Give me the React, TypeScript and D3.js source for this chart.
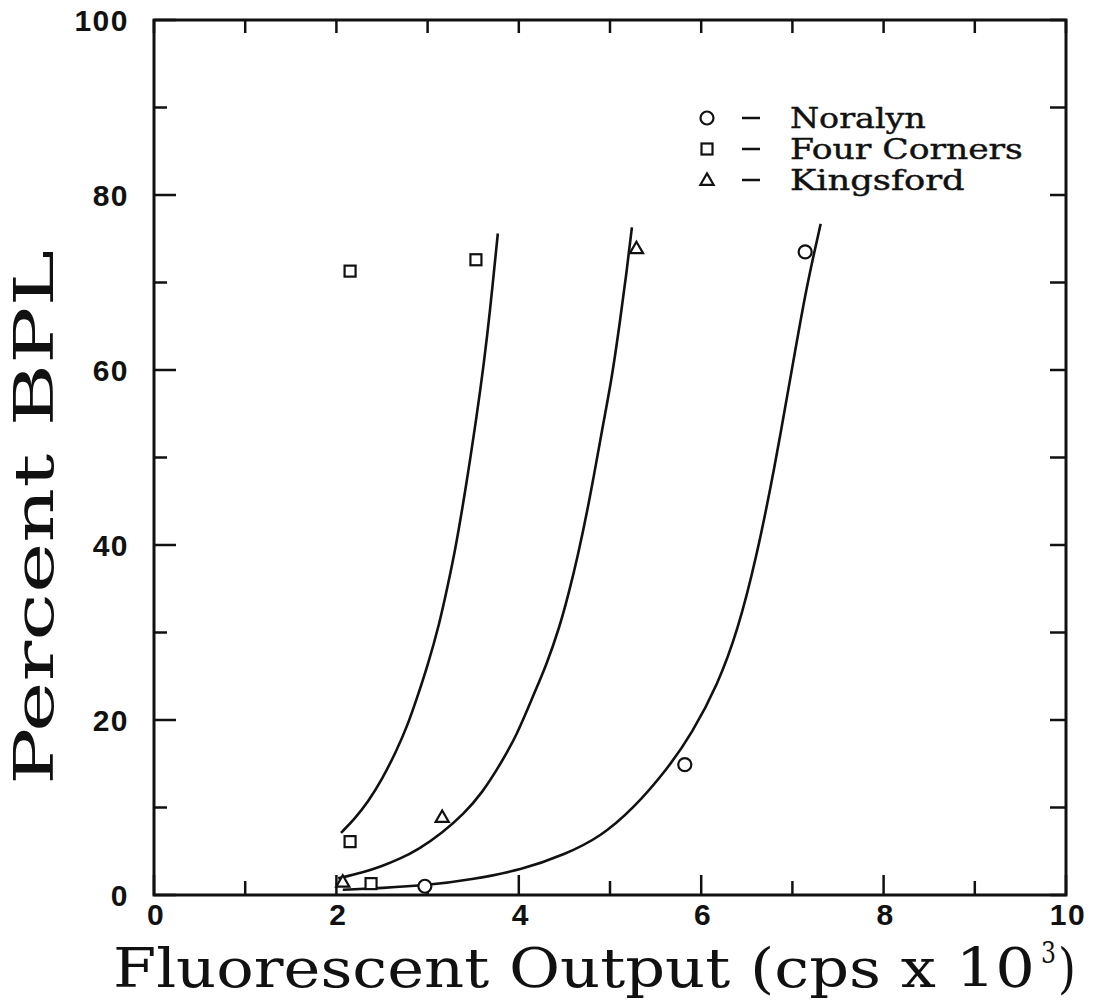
import React from 'react'
import * as d3 from 'd3'

// measured points, [cps x 10^3, % BPL]
const noralynPoints = [[2.97, 1.0], [5.82, 14.9], [7.14, 73.5]]
const fourCornersPoints = [[2.15, 71.3], [3.53, 72.6], [2.15, 6.1], [2.38, 1.3]]
const kingsfordPoints = [[2.07, 1.5], [3.16, 8.9], [5.29, 73.9]]

// fitted curves
const noralynCurve = [
  [2.07, 0.6], [2.5, 0.8], [2.99, 1.1], [3.5, 1.8], [4.04, 2.9], [4.5, 4.6], [4.89, 6.6], [5.25, 9.8],
  [5.63, 14.4], [5.9, 18.5], [6.18, 24.0], [6.4, 30.2], [6.6, 38.3], [6.8, 48.5], [7.01, 61.0], [7.15, 69.3], [7.31, 76.7],
]
const kingsfordCurve = [
  [2.02, 1.9], [2.3, 2.6], [2.5, 3.3], [2.69, 4.1], [2.9, 5.2], [3.16, 7.1], [3.4, 9.3], [3.6, 11.7], [3.79, 14.8],
  [3.98, 18.3], [4.15, 22.6], [4.3, 26.2], [4.45, 30.7], [4.55, 34.6], [4.64, 38.4], [4.78, 45.3], [4.92, 53.6],
  [5.02, 59.0], [5.11, 65.6], [5.18, 71.0], [5.24, 76.3],
]
const fourCornersCurve = [
  [2.05, 7.1], [2.2, 8.7], [2.35, 10.7], [2.5, 13.2], [2.66, 16.5], [2.78, 19.4], [2.88, 22.4], [3.0, 26.2],
  [3.13, 31.0], [3.22, 35.3], [3.31, 39.8], [3.42, 46.6], [3.54, 54.8], [3.62, 61.0], [3.68, 66.3], [3.77, 75.6],
]

const legendNames = ['Noralyn', 'Four Corners', 'Kingsford']
const legendShapes = ['circle', 'square', 'triangle']

const xMajor = [0, 2, 4, 6, 8, 10]
const yMajor = [0, 20, 40, 60, 80, 100]

const INK = '#111'
const SERIF = '"DejaVu Serif Condensed", "DejaVu Serif", serif'
const SANS = '"Liberation Sans", Arial, sans-serif'

function Marker({ shape, cx, cy }: { shape: string; cx: number; cy: number }) {
  if (shape === 'circle') {
    return <circle cx={cx} cy={cy} r={6.5} fill="white" stroke={INK} strokeWidth={2.2} />
  }
  if (shape === 'square') {
    return <rect x={cx - 5.5} y={cy - 5.5} width={11} height={11} fill="white" stroke={INK} strokeWidth={2.2} />
  }
  const tri = d3.symbol().type(d3.symbolTriangle).size(75)()
  return <path d={tri || ''} transform={`translate(${cx},${cy + 1})`} fill="white" stroke={INK} strokeWidth={2.2} />
}

export default function App() {
  const width = 1093
  const height = 1005
  const x = d3.scaleLinear().domain([0, 10]).range([154, 1066])
  const y = d3.scaleLinear().domain([0, 100]).range([895, 20])

  const line = d3
    .line<number[]>()
    .x((d) => x(d[0]))
    .y((d) => y(d[1]))
    .curve(d3.curveBasis)

  const xMinor = x.ticks(10)
  const yMinor = y.ticks(10)

  const series = [
    { shape: 'circle', pts: noralynPoints, curve: noralynCurve },
    { shape: 'square', pts: fourCornersPoints, curve: fourCornersCurve },
    { shape: 'triangle', pts: kingsfordPoints, curve: kingsfordCurve },
  ]

  const [x0, x1] = x.range()
  const [y0, y1] = y.range()

  return (
    <svg width={width} height={height} style={{ position: 'absolute', left: 0, top: 0, background: 'white' }}>
      {/* curves */}
      {series.map((s, i) => (
        <path key={'c' + i} d={line(s.curve) || ''} fill="none" stroke={INK} strokeWidth={2.6} />
      ))}

      {/* frame */}
      <rect x={x0} y={y1} width={x1 - x0} height={y0 - y1} fill="none" stroke={INK} strokeWidth={3} />

      {/* bottom + top ticks */}
      {xMinor.map((t) => {
        const major = xMajor.includes(t)
        return (
          <g key={'xt' + t}>
            <line x1={x(t)} x2={x(t)} y1={y0} y2={y0 - (major ? 20 : 14)} stroke={INK} strokeWidth={2.5} />
            <line x1={x(t)} x2={x(t)} y1={y1} y2={y1 + 13} stroke={INK} strokeWidth={2.5} />
          </g>
        )
      })}
      {/* left + right ticks */}
      {yMinor.map((t) => {
        const major = yMajor.includes(t)
        return (
          <g key={'yt' + t}>
            <line x1={x0} x2={x0 + (major ? 22 : 13)} y1={y(t)} y2={y(t)} stroke={INK} strokeWidth={2.5} />
            <line x1={x1} x2={x1 - 16} y1={y(t)} y2={y(t)} stroke={INK} strokeWidth={2.5} />
          </g>
        )
      })}

      {/* tick labels */}
      {yMajor.map((t) => (
        <text key={'yl' + t} x={129} y={y(t)} dy="0.36em" textAnchor="end" fontFamily={SANS} fontWeight="bold" fontSize={30} letterSpacing={1.5} fill={INK}>
          {t}
        </text>
      ))}
      {xMajor.map((t) => (
        <text key={'xl' + t} x={x(t) + 2} y={914} dy="0.36em" textAnchor="middle" fontFamily={SANS} fontWeight="bold" fontSize={30} letterSpacing={1.5} fill={INK}>
          {t}
        </text>
      ))}

      {/* markers */}
      {series.map((s, i) =>
        s.pts.map((p, j) => <Marker key={`m${i}-${j}`} shape={s.shape} cx={x(p[0])} cy={y(p[1])} />)
      )}

      {/* legend */}
      {legendNames.map((name, i) => {
        const cy = 118 + i * 31
        return (
          <g key={'lg' + i}>
            <Marker shape={legendShapes[i]} cx={707} cy={cy} />
            <line x1={742} x2={760} y1={cy} y2={cy} stroke={INK} strokeWidth={2.5} />
            <text x={790} y={cy + 10} fontFamily={SERIF} fontSize={28} textLength={name.length * 19.4} lengthAdjust="spacingAndGlyphs" fill={INK} stroke={INK} strokeWidth={0.4}>
              {name}
            </text>
          </g>
        )
      })}

      {/* axis titles */}
      <text x={113} y={987} fontFamily={SERIF} fontSize={55} textLength={922} lengthAdjust="spacingAndGlyphs" fill={INK}>
        Fluorescent Output (cps x 10
      </text>
      <text x={1041} y={963} fontFamily={SERIF} fontSize={30} textLength={15} lengthAdjust="spacingAndGlyphs" fill={INK}>
        3
      </text>
      <text x={1058} y={987} fontFamily={SERIF} fontSize={55} textLength={18} lengthAdjust="spacingAndGlyphs" fill={INK}>
        )
      </text>
      <text
        transform={`translate(53,785) rotate(-90)`}
        fontFamily={SERIF}
        fontSize={55}
        textLength={535}
        lengthAdjust="spacingAndGlyphs"
        fill={INK}
      >
        Percent BPL
      </text>
    </svg>
  )
}
